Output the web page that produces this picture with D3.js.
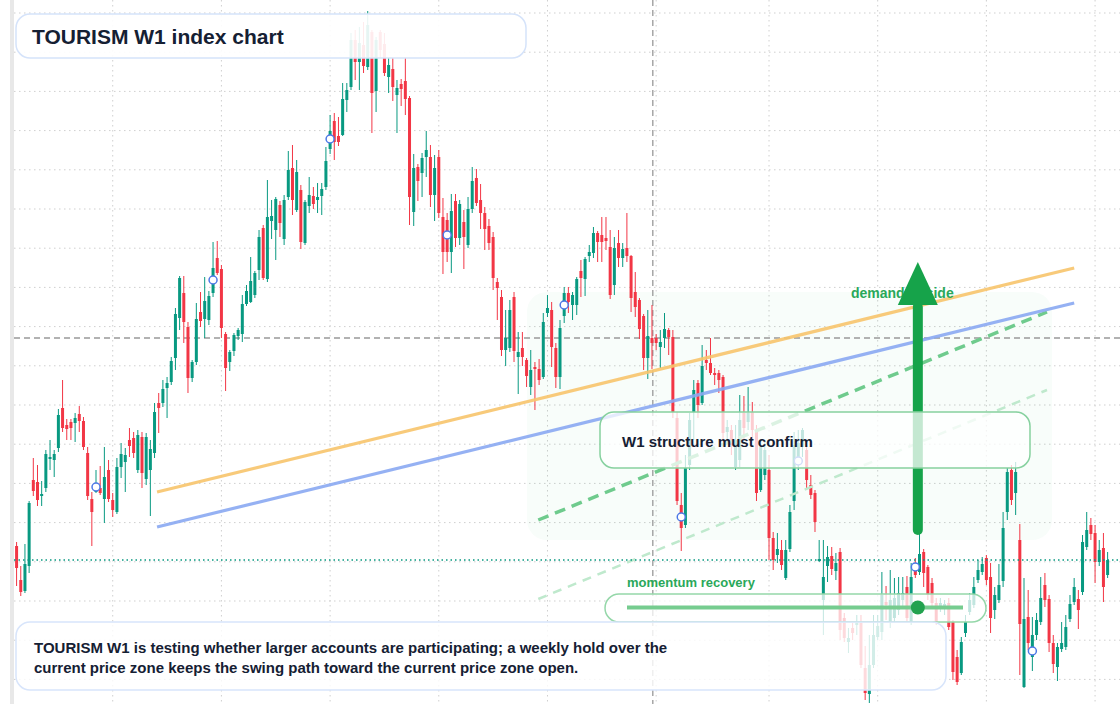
<!DOCTYPE html>
<html><head><meta charset="utf-8">
<script src="https://cdn.jsdelivr.net/npm/d3@7"></script>
<style>html,body{margin:0;padding:0;background:#fff;overflow:hidden}svg{display:block}</style>
</head><body>
<svg id="chart" width="1120" height="704"></svg>
<script>
// ---- data (weekly candles, index points) ----
const open = [454,420,409,434,520,518,504,512,541,540, 552,592,575,578,577,586,579,547,501,508,
 512,501,530,500,488,533,538,560,562,530, 563,521,530,547,597,597,612,618,642,682,
 707,673,622,638,688,681,680,707,742,731, 666,638,649,664,666,696,698,705,730,772,
 721,779,770,795,761,803,832,790,810,757, 794,804,800,804,813,851,879,864,865,900,
 913,960,938,955,933,968,909,968,956,923, 931,905,916,919,902,788,833,827,843,843,
 805,843,783,780,748,799,762,778,755,791, 822,800,787,774,763,718,703,650,652,703,
 643,652,640,613,633,631,623,687,690,652, 623,684,707,695,695,729,721,744,747,767,
 765,762,753,715,757,742,752,744,708,700, 684,642,662,662,653,662,670,663,582,495,
 475,535,588,617,597,640,637,627,627,623, 568,570,533,540,587,578,588,570,510,525,
 530,462,445,450,422,451,499,540,553,550, 515,507,439,400,434,444,429,448,382,358,
 372,375,377,332,306,335,363,368,398,378, 382,390,400,413,378,435,428,448,433,417,
 397,394,393,397,378,343,327,367,388,395, 420,428,442,423,390,400,419,488,530,507,
 460,313,383,343,365,378,415,401,357,333, 351,353,381,398,401,408,453,475,467,438,
 452,425];
const close = [432,408,436,497,509,500,506,546,543,546, 585,572,571,572,582,579,553,504,488,516,
 507,523,501,490,533,546,545,554,547,565, 527,563,551,588,592,611,617,639,686,722,
 678,622,638,681,679,699,704,732,727,672, 632,648,665,670,696,709,719,727,763,722,
 783,784,801,777,800,830,800,828,758,798, 805,796,803,811,839,869,858,858,901,910,
 960,938,957,934,975,907,960,950,927,935, 913,912,911,901,803,832,819,842,850,805,
 832,787,748,748,789,762,796,763,791,819, 797,787,771,757,722,712,650,662,690,649,
 648,643,624,630,631,620,678,692,653,623, 672,707,698,705,721,722,741,748,767,758,
 758,759,705,752,742,751,744,702,693,671, 642,664,657,657,658,671,663,588,499,472,
 532,580,610,595,634,637,627,625,620,567, 573,555,560,580,572,587,570,507,553,550,
 462,440,451,435,450,488,555,557,570,520, 505,478,441,423,443,431,437,370,362,362,
 367,378,335,307,335,365,374,405,395,400, 402,407,407,382,423,425,446,427,405,397,
 378,397,396,373,328,318,358,378,400,413, 430,436,420,382,405,415,472,528,500,528,
 376,381,357,365,380,402,400,357,336,353, 357,373,396,413,390,458,470,466,438,450,
 413,440];
const high = [458,434,456,499,542,535,519,550,560,550, 591,620,581,581,587,594,583,553,508,530,
 534,553,540,507,542,557,552,572,568,570, 568,567,560,597,607,620,623,643,692,724,
 724,678,640,697,708,723,709,758,759,735, 668,650,667,672,705,715,743,729,770,775,
 820,800,803,799,805,849,855,840,815,800, 823,813,817,817,853,885,887,883,917,917,
 967,970,973,978,989,970,963,970,967,942, 942,920,921,942,904,846,836,847,869,855,
 845,850,802,787,806,806,800,790,803,833, 831,816,793,781,768,722,710,690,700,708,
 668,668,642,650,638,641,687,705,698,657, 680,713,713,708,723,740,743,755,773,769,
 783,783,770,763,770,757,787,745,728,702, 686,690,695,666,670,687,672,670,588,507,
 545,587,620,620,655,650,662,632,630,625, 580,575,575,605,604,613,598,575,560,560,
 545,468,467,460,460,495,568,570,572,555, 525,510,460,460,454,453,447,452,387,372,
 377,385,385,354,365,385,385,428,414,430, 422,423,423,424,437,442,470,451,435,422,
 402,402,400,402,380,350,363,385,407,423, 440,443,445,437,413,436,488,532,535,538,
 476,422,410,383,387,423,427,405,365,357, 378,385,405,422,410,465,488,482,475,460,
 467,448];
const low = [414,404,407,427,504,494,494,508,530,523, 548,568,560,560,558,568,550,500,454,507,
 505,477,498,483,486,522,508,543,542,527, 512,515,484,542,567,593,582,615,630,670,
 657,607,618,635,673,662,675,703,725,662, 609,629,644,660,658,694,697,702,720,720,
 718,761,740,763,755,800,785,788,751,755, 787,791,787,785,810,846,840,854,864,888,
 910,920,910,927,930,867,888,942,924,907, 899,867,894,885,775,774,799,803,823,793,
 779,782,726,738,727,753,755,731,752,787, 794,771,750,750,710,680,644,634,648,638,
 606,634,613,605,590,615,621,683,633,612, 611,677,687,680,685,703,704,738,742,738,
 738,750,701,705,733,733,738,688,683,661, 630,621,631,650,632,652,645,582,495,449,
 472,530,560,582,595,630,625,615,607,560, 560,545,530,533,560,570,560,499,508,520,
 440,430,437,430,420,448,490,530,543,510, 501,468,438,365,418,425,420,360,358,347,
 360,365,332,300,297,332,360,360,380,372, 378,385,392,378,375,422,425,413,400,392,
 375,388,385,370,320,315,325,363,385,392, 417,425,415,367,381,397,413,480,495,485,
 325,312,350,329,360,375,393,348,327,319, 348,350,378,395,371,405,450,460,417,434,
 398,422];
const markerIdx = [19,47,75,103,131,159,187,215,243];
const markerVal = [513,720,861,765,695,483,539,433,349];
const gridPrices = [987,947.8,908.6,869.4,830.2,791,751.8,712.6,673.4,634.2,595,555.8,516.6,477.4,438.2,399,359.8,320.6];
const gridIdx = [23,49,75,101,127,153,180,206,232,258];
const orangeLine = [[33.6,508],[253,732]];
const blueLine = [[33.6,473],[253,697]];
const greenDash = [[124.8,480],[246.5,688]];
const lightDash = [[124.8,401],[246.5,610]];
const zoneIdx = [122.1,247.7];
const zonePrice = [460,708];
const crossIdx = 152.2, crossPrice = 662;
const arrowIdx = 215.6, arrowFrom = 470, arrowBase = 695, arrowTip = 738;
const titleText = "TOURISM W1 index chart";
const noteLines = ["TOURISM W1 is testing whether larger accounts are participating; a weekly hold over the",
                   "current price zone keeps the swing path toward the current price zone open."];
const confirmText = "W1 structure must confirm";
const upsideText = "demand upside";
const momentumText = "momentum recovery";

// ---- scales ----
const W = 1120, H = 704;
const x = d3.scaleLinear().domain([-0.5, 261.5]).range([14.5, 1109.7]);
const y = d3.scaleLinear().domain([296, 1000]).range([704, 0]);
const svg = d3.select("#chart");
const FONT = "'Liberation Sans', Arial, sans-serif";
const GREEN = "#089981", RED = "#f23645";

svg.append("rect").attr("x",10).attr("y",0).attr("width",4).attr("height",H).attr("fill","#e8e8e8");

// grid
const g = svg.append("g");
g.selectAll("line.h").data(gridPrices).join("line").attr("class","h")
  .attr("x1",14).attr("x2",W).attr("y1",d=>y(d)).attr("y2",d=>y(d))
  .attr("stroke","#cfcfcf").attr("stroke-width",1).attr("stroke-dasharray","1.5,3.5");
g.selectAll("line.v").data(gridIdx).join("line").attr("class","v")
  .attr("x1",d=>x(d)).attr("x2",d=>x(d)).attr("y1",0).attr("y2",H)
  .attr("stroke","#cfcfcf").attr("stroke-width",1).attr("stroke-dasharray","1.5,3.5");

// zone
svg.append("rect").attr("x",x(zoneIdx[0])).attr("y",y(zonePrice[1]))
  .attr("width",x(zoneIdx[1])-x(zoneIdx[0])).attr("height",y(zonePrice[0])-y(zonePrice[1]))
  .attr("rx",20).attr("fill","#22c55e").attr("fill-opacity",0.03);

// crosshair
svg.append("line").attr("x1",x(crossIdx)).attr("x2",x(crossIdx)).attr("y1",0).attr("y2",H)
  .attr("stroke","#999").attr("stroke-width",1.3).attr("stroke-dasharray","6,4");
svg.append("line").attr("x1",14).attr("x2",W).attr("y1",y(crossPrice)).attr("y2",y(crossPrice))
  .attr("stroke","#999").attr("stroke-width",1.3).attr("stroke-dasharray","6,4");

// candles
const candles = d3.range(open.length).map(i=>({i,o:open[i],h:high[i],l:low[i],c:close[i]}));
const cg = svg.append("g");
cg.selectAll("line").data(candles).join("line")
  .attr("x1",d=>x(d.i)).attr("x2",d=>x(d.i)).attr("y1",d=>y(d.h)).attr("y2",d=>y(d.l))
  .attr("stroke",d=>d.c>=d.o?GREEN:RED).attr("stroke-width",1);
cg.selectAll("rect").data(candles).join("rect")
  .attr("x",d=>x(d.i)-1.5).attr("width",3)
  .attr("y",d=>y(Math.max(d.o,d.c))).attr("height",d=>Math.max(1,Math.abs(y(d.o)-y(d.c))))
  .attr("fill",d=>d.c>=d.o?GREEN:RED);

// trend lines
const lineGen = d3.line().x(d=>x(d[0])).y(d=>y(d[1]));
svg.append("path").attr("d",lineGen(lightDash)).attr("fill","none").attr("stroke","#bfe9cd").attr("stroke-width",2.5).attr("stroke-dasharray","9,7");
svg.append("path").attr("d",lineGen(greenDash)).attr("fill","none").attr("stroke","#6fcb8d").attr("stroke-width",3.5).attr("stroke-dasharray","11,7");
svg.append("path").attr("d",lineGen(orangeLine)).attr("fill","none").attr("stroke","#f7c46c").attr("stroke-width",3.2).attr("stroke-opacity",0.9);
svg.append("path").attr("d",lineGen(blueLine)).attr("fill","none").attr("stroke","#8aa9f2").attr("stroke-width",3.2).attr("stroke-opacity",0.9);

// markers
svg.append("g").selectAll("circle").data(markerIdx).join("circle")
  .attr("cx",d=>x(d)).attr("cy",(d,k)=>y(markerVal[k])).attr("r",4)
  .attr("fill","#fff").attr("stroke","#4d78e6").attr("stroke-width",1.5);

// last price line
svg.append("line").attr("x1",14).attr("x2",W).attr("y1",y(close[close.length-1])).attr("y2",y(close[close.length-1]))
  .attr("stroke","#089981").attr("stroke-width",1.3).attr("stroke-dasharray","1.5,3");

// demand upside label + arrow
svg.append("text").attr("x",851).attr("y",298).text(upsideText)
  .attr("font-family",FONT).attr("font-weight","bold").attr("font-size",14).attr("fill","#2aa85a");
const ax = x(arrowIdx);
svg.append("line").attr("x1",ax).attr("x2",ax).attr("y1",y(arrowFrom)).attr("y2",y(arrowBase)+2)
  .attr("stroke","#16a34a").attr("stroke-width",10).attr("stroke-linecap","round");
svg.append("path").attr("d",`M${ax-20},${y(arrowBase)}L${ax+20},${y(arrowBase)}L${ax},${y(arrowTip)}Z`).attr("fill","#16a34a");

// boxes
function box(x0,y0,w,h,stroke,op){
  svg.append("rect").attr("x",x0).attr("y",y0).attr("width",w).attr("height",h).attr("rx",14)
    .attr("fill","#fff").attr("fill-opacity",op).attr("stroke",stroke).attr("stroke-width",1.5);
}
box(16,14,510,44,"#d5e3fa",0.9);
svg.append("text").attr("x",32).attr("y",43.5).text(titleText)
  .attr("font-family",FONT).attr("font-weight","bold").attr("font-size",21).attr("fill","#152033");

box(600,412,430,56,"#86d19f",0.75);
svg.append("text").attr("x",622).attr("y",447).text(confirmText)
  .attr("font-family",FONT).attr("font-weight","bold").attr("font-size",15).attr("fill","#152033");

svg.append("text").attr("x",627).attr("y",587).text(momentumText)
  .attr("font-family",FONT).attr("font-weight","bold").attr("font-size",13).attr("fill","#2aa85a");
box(605,594,381,28,"#95d7a9",0.75);
svg.append("line").attr("x1",627).attr("x2",963).attr("y1",607.5).attr("y2",607.5)
  .attr("stroke","#76cc8f").attr("stroke-width",4);
svg.append("circle").attr("cx",ax).attr("cy",607.5).attr("r",7).attr("fill","#22a24f");

box(16,622,930,68,"#d8e5fb",0.82);
svg.append("g").selectAll("text").data(noteLines).join("text")
  .attr("x",34).attr("y",(d,k)=>653+k*20).text(d=>d)
  .attr("font-family",FONT).attr("font-weight","bold").attr("font-size",15).attr("fill","#152033");
</script>
</body></html>
